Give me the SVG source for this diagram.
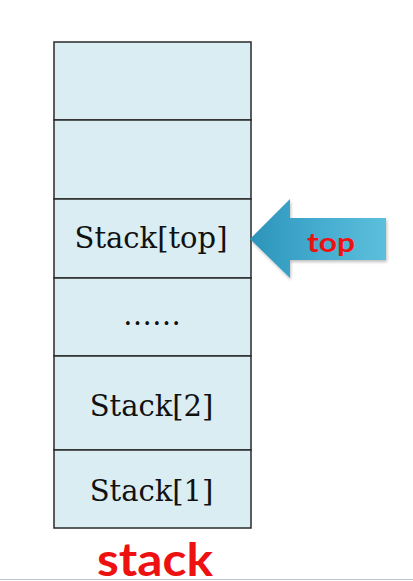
<svg xmlns="http://www.w3.org/2000/svg" width="413" height="581" viewBox="0 0 413 581">
  <defs>
    <linearGradient id="arrowGrad" x1="0" y1="0" x2="1" y2="0">
      <stop offset="0" stop-color="#2b94b8"/>
      <stop offset="0.5" stop-color="#45acd0"/>
      <stop offset="1" stop-color="#5cbfdb"/>
    </linearGradient>
    <filter id="shadow" x="-10%" y="-10%" width="130%" height="130%">
      <feDropShadow dx="1" dy="2" stdDeviation="1.5" flood-color="#000" flood-opacity="0.25"/>
    </filter>
  </defs>
  <style>
    .cell { fill: #daedf3; stroke: #2a2a2a; stroke-width: 1.5; }
    .lbl { font-family: "DejaVu Serif", "Liberation Serif", serif; font-size: 29px; fill: #111; text-anchor: middle; }
    .red { font-family: Lato, "Open Sans", "Liberation Sans", sans-serif; font-weight: bold; fill: #ee1111; text-anchor: middle; }
  </style>
  <rect x="0" y="0" width="413" height="581" fill="#ffffff"/>
  <g id="cell6"><rect class="cell" x="54" y="42" width="197" height="78"/></g>
  <g id="cell5"><rect class="cell" x="54" y="120" width="197" height="79"/></g>
  <g id="cell4"><rect class="cell" x="54" y="199" width="197" height="79"/><text class="lbl" x="151" y="248">Stack[top]</text></g>
  <g id="cell3"><rect class="cell" x="54" y="278" width="197" height="78"/><text class="lbl" x="152" y="325">……</text></g>
  <g id="cell2"><rect class="cell" x="54" y="356" width="197" height="94"/><text class="lbl" x="151.5" y="416">Stack[2]</text></g>
  <g id="cell1"><rect class="cell" x="54" y="450" width="197" height="78"/><text class="lbl" x="151.5" y="501">Stack[1]</text></g>
  <g id="topArrow">
    <polygon points="250,239 290,199 290,218 386,218 386,260 290,260 290,278" fill="url(#arrowGrad)" filter="url(#shadow)"/>
    <text class="red" x="331" y="252" font-size="27" textLength="48" lengthAdjust="spacingAndGlyphs">top</text>
  </g>
  <g id="stackLabel"><text class="red" x="155" y="576" font-size="45" textLength="116" lengthAdjust="spacingAndGlyphs">stack</text></g>
  <line x1="0" y1="579.5" x2="413" y2="579.5" stroke="#b8c8d8" stroke-width="1"/>
</svg>
